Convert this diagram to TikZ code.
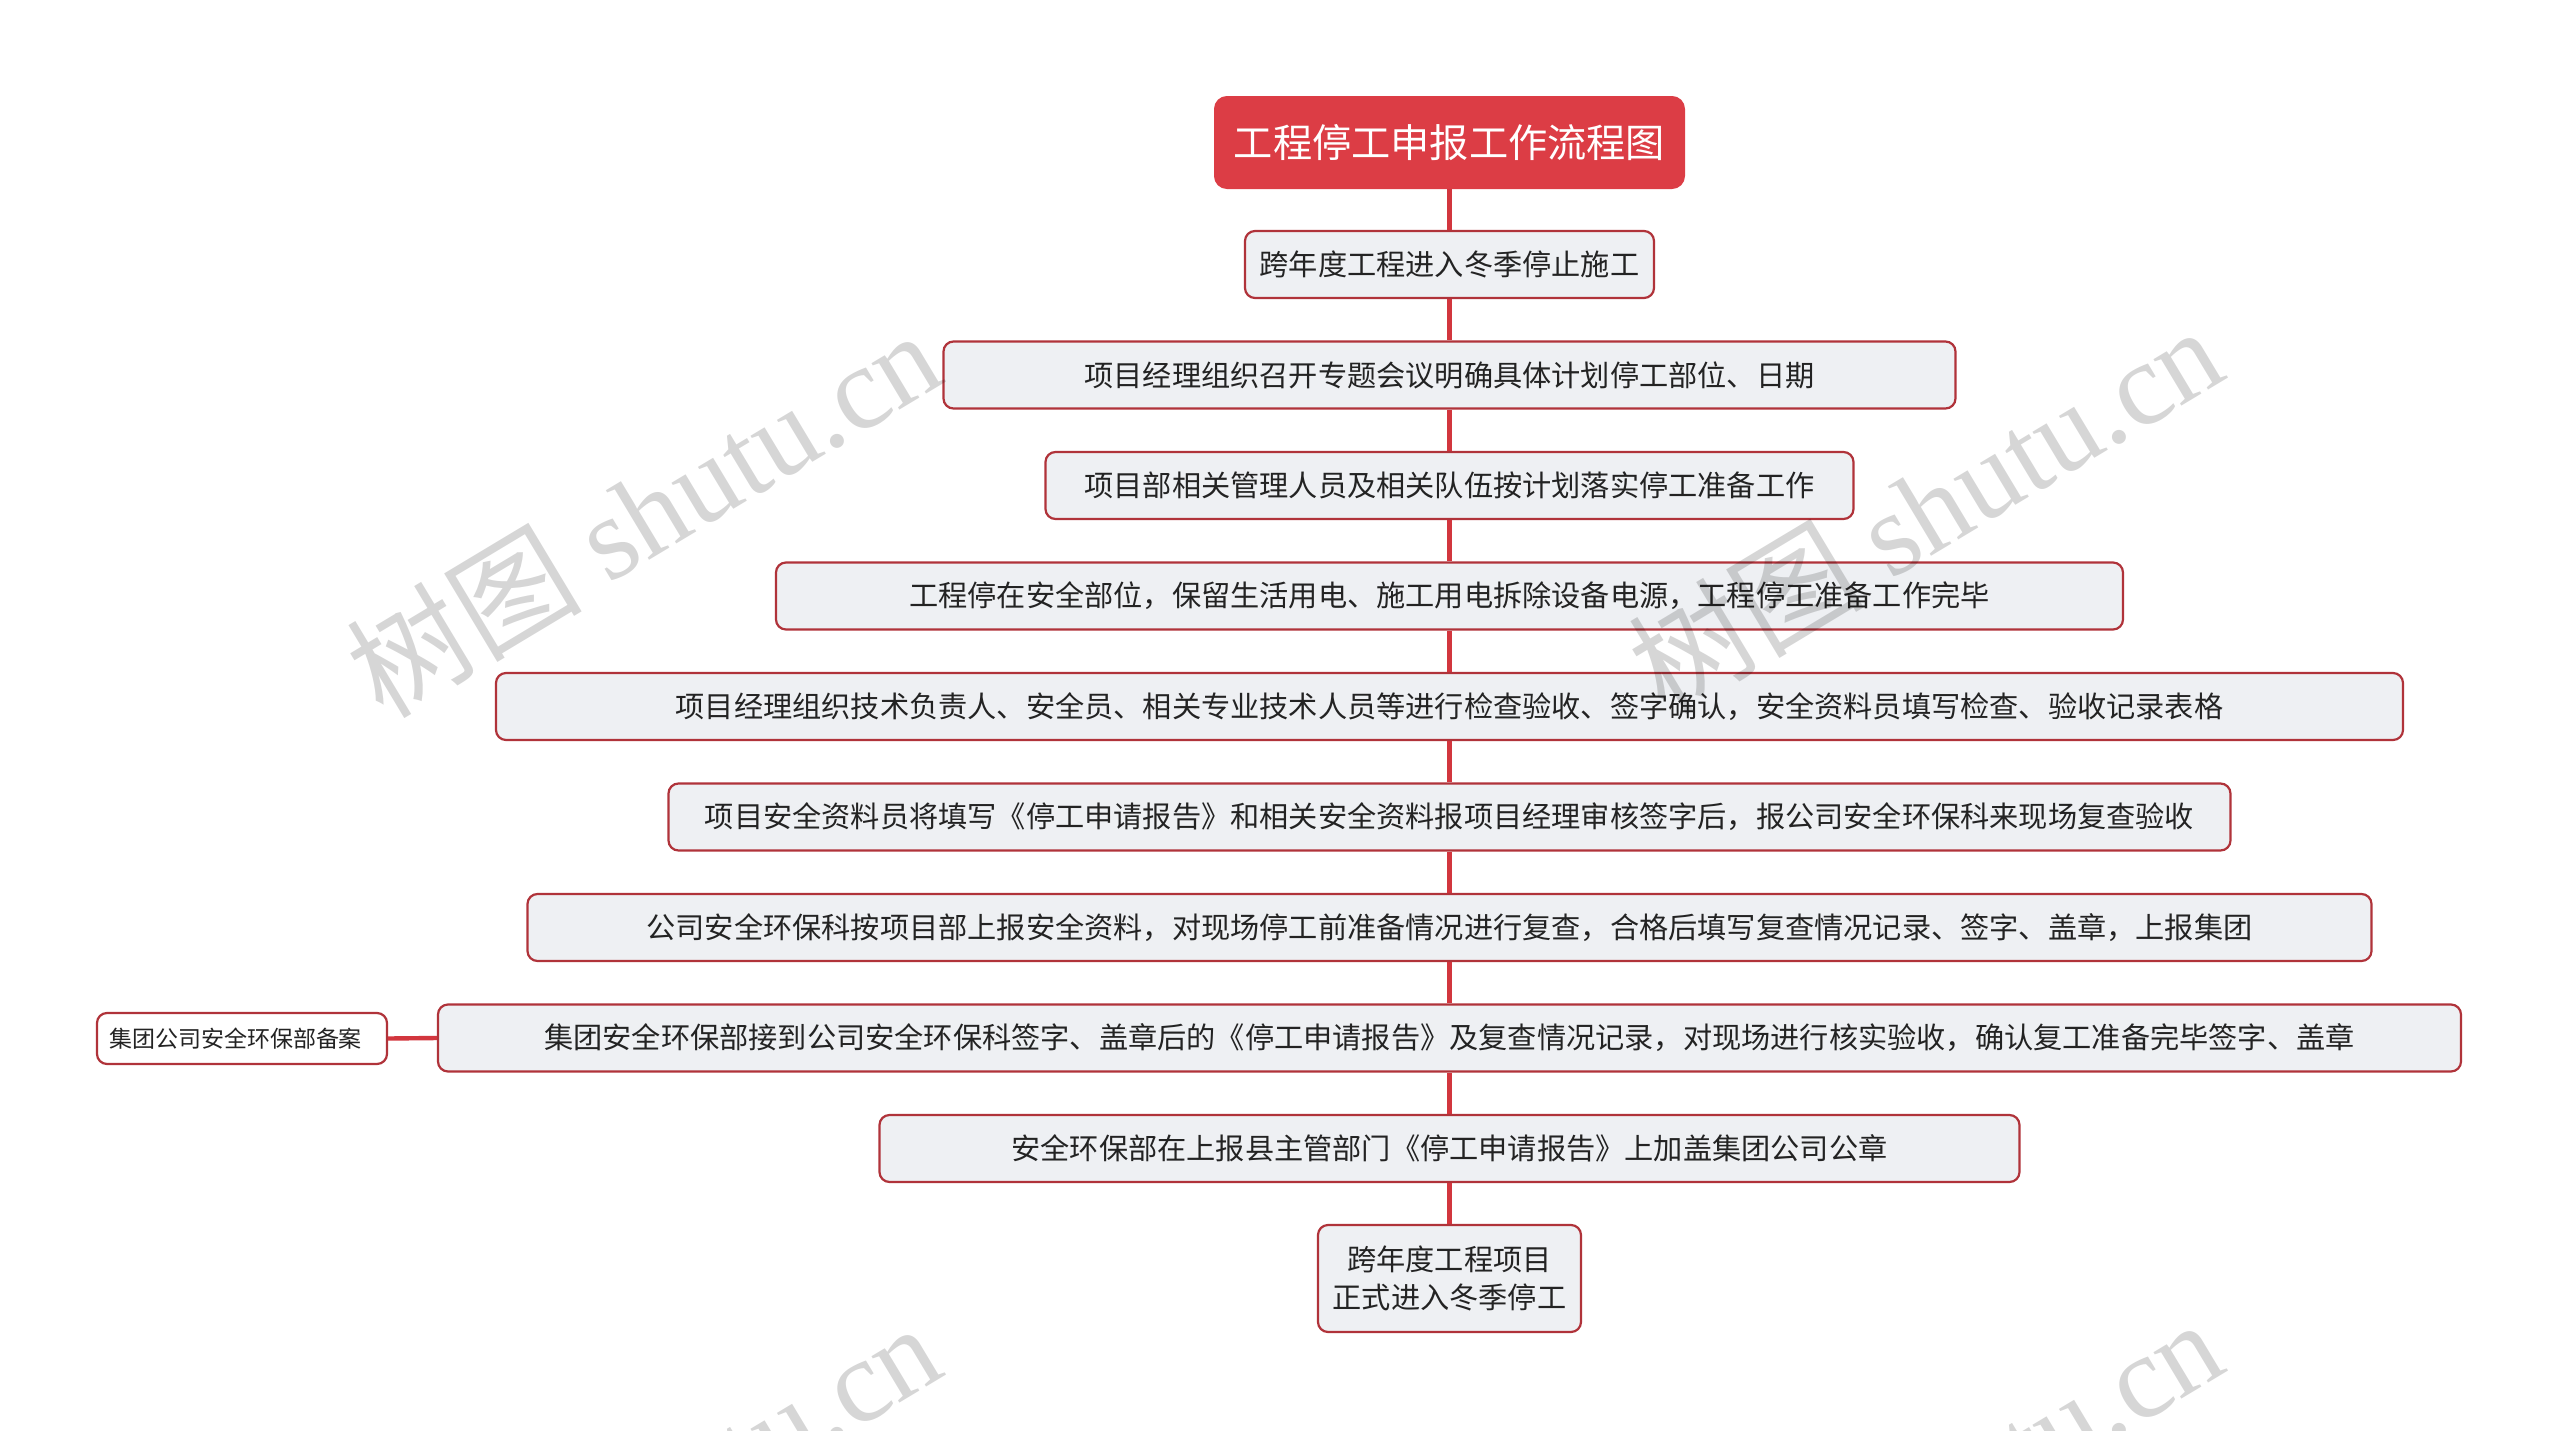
\documentclass[tikz,border=0pt]{standalone}
\usepackage{fontspec}
\setmainfont{Noto Sans CJK SC}
\newfontfamily\wmlat{Liberation Serif}
\newfontfamily\wmcjk{Noto Sans CJK SC}
\definecolor{titlered}{HTML}{DC3D45}
\definecolor{linered}{HTML}{D2363E}
\definecolor{borderred}{HTML}{B0333A}
\definecolor{boxfill}{HTML}{EEF0F3}
\definecolor{txt}{HTML}{232323}
\begin{document}
\begin{tikzpicture}[x=0.5pt,y=-0.5pt,
  titlebox/.style={draw=titlered, fill=titlered, rounded corners=6pt, line width=1pt,
    minimum width=234.5pt, minimum height=45.5pt, inner sep=0pt, text=white,
    font=\fontsize{19.6pt}{24pt}\selectfont},
  stepbox/.style={draw=borderred, fill=boxfill, rounded corners=5pt, line width=1.1pt,
    minimum height=33.5pt, inner sep=0pt, text=txt,
    font=\fontsize{14.6pt}{19pt}\selectfont},
  sidebox/.style={draw=borderred, fill=white, rounded corners=5pt, line width=1.1pt,
    minimum height=25.5pt, inner xsep=6pt, inner ysep=0pt, text width=133pt, align=left, text=txt,
    font=\fontsize{11.5pt}{14pt}\selectfont},
  conn/.style={draw=linered, line width=2.2pt},
  wm/.style={rotate=31, text=black, text opacity=0.16, inner sep=0pt,
    font=\fontsize{59pt}{64pt}\selectfont}
]
\useasboundingbox (0,0) rectangle (2560,1430);

\node[titlebox] (T) at (1449.5,142.5) {工程停工申报工作流程图};
\node[stepbox, minimum width=204.5pt] (B1) at (1449.5,264.5) {跨年度工程进入冬季停止施工};
\node[stepbox, minimum width=506pt] (B2) at (1449.5,375) {项目经理组织召开专题会议明确具体计划停工部位、日期};
\node[stepbox, minimum width=404pt] (B3) at (1449.5,485.5) {项目部相关管理人员及相关队伍按计划落实停工准备工作};
\node[stepbox, minimum width=673.5pt] (B4) at (1449.5,596) {工程停在安全部位，保留生活用电、施工用电拆除设备电源，工程停工准备工作完毕};
\node[stepbox, minimum width=953.5pt] (B5) at (1449.5,706.5) {项目经理组织技术负责人、安全员、相关专业技术人员等进行检查验收、签字确认，安全资料员填写检查、验收记录表格};
\node[stepbox, minimum width=781pt] (B6) at (1449.5,817) {项目安全资料员将填写《停工申请报告》和相关安全资料报项目经理审核签字后，报公司安全环保科来现场复查验收};
\node[stepbox, minimum width=922pt] (B7) at (1449.5,927.5) {公司安全环保科按项目部上报安全资料，对现场停工前准备情况进行复查，合格后填写复查情况记录、签字、盖章，上报集团};
\node[stepbox, minimum width=1011.5pt] (B8) at (1449.5,1038) {集团安全环保部接到公司安全环保科签字、盖章后的《停工申请报告》及复查情况记录，对现场进行核实验收，确认复工准备完毕签字、盖章};
\node[stepbox, minimum width=570pt] (B9) at (1449.5,1148.5) {安全环保部在上报县主管部门《停工申请报告》上加盖集团公司公章};
\node[stepbox, minimum width=131.5pt, minimum height=53.5pt, align=center] (B10) at (1449.5,1278.5) {跨年度工程项目\\正式进入冬季停工};
\node[sidebox] (S) at (242,1038.5) {集团公司安全环保部备案};

\draw[conn] (T) -- (B1);
\draw[conn] (B1) -- (B2);
\draw[conn] (B2) -- (B3);
\draw[conn] (B3) -- (B4);
\draw[conn] (B4) -- (B5);
\draw[conn] (B5) -- (B6);
\draw[conn] (B6) -- (B7);
\draw[conn] (B7) -- (B8);
\draw[conn] (B8) -- (B9);
\draw[conn] (B9) -- (B10);
\draw[conn] (B8.west) -- (S.east);

\begin{scope}
\clip (0,0) rectangle (2560,1430);
\node[wm] (W1) at (643,512) {\wmcjk 树图\ \wmlat shutu.cn};
\node[wm] (W2) at (1925,508) {\wmcjk 树图\ \wmlat shutu.cn};
\node[wm] (W3) at (643,1505) {\wmcjk 树图\ \wmlat shutu.cn};
\node[wm] (W4) at (1925,1501) {\wmcjk 树图\ \wmlat shutu.cn};
\end{scope}
\end{tikzpicture}
\end{document}
